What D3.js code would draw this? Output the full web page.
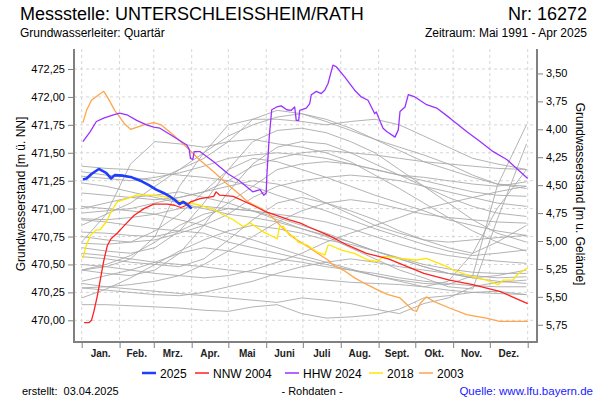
<!DOCTYPE html>
<html><head><meta charset="utf-8">
<script src="https://cdn.jsdelivr.net/npm/d3@7"></script>
<style>body{margin:0;background:#fff}svg{display:block;font-family:"Liberation Sans",Arial,sans-serif}</style>
</head><body><svg id="c" width="600" height="400"></svg>
<script>
// ---- data ----
const monthStarts = [0,31,59,90,120,151,181,212,243,273,304,334,365];
const monthLabels = ["Jan.","Feb.","Mrz.","Apr.","Mai","Juni","Juli","Aug.","Sept.","Okt.","Nov.","Dez."];
const leftTicks = [470.00,470.25,470.50,470.75,471.00,471.25,471.50,471.75,472.00,472.25];
const rightTicks = [3.50,3.75,4.00,4.25,4.50,4.75,5.00,5.25,5.50,5.75];
const groundLevel = 475.71;

const greyDays = [0,20,40,60,80,100,120,140,160,180,200,220,240,260,280,300,320,340,364];
const greyYears = [
 [471.33,471.30,471.28,471.25,471.35,471.45,471.60,471.80,471.88,471.85,471.78,471.70,471.62,471.55,471.48,471.40,471.30,471.22,471.20],
 [470.70,470.95,471.40,471.60,471.58,471.55,471.60,471.62,471.58,471.55,471.50,471.42,471.30,471.18,471.05,470.92,470.80,470.70,470.62],
 [470.45,470.48,470.55,470.75,471.20,471.50,471.75,471.80,471.80,471.78,471.75,471.78,471.80,471.75,471.65,471.55,471.45,471.40,471.35],
 [470.90,470.88,470.85,470.82,470.80,470.78,470.70,470.65,470.60,470.55,470.50,470.45,470.40,470.36,470.33,470.32,470.40,471.20,471.75],
 [471.00,471.05,471.10,471.12,471.15,471.10,471.05,470.98,470.90,470.82,470.75,470.65,470.55,470.45,470.38,470.30,470.28,470.90,471.58],
 [470.33,470.30,470.28,470.26,470.24,470.22,470.20,470.18,470.16,470.20,470.18,470.15,470.10,470.06,470.15,470.20,470.30,470.34,470.36],
 [470.14,470.14,470.13,470.12,470.11,470.09,470.08,470.12,470.14,470.06,470.02,470.03,470.05,470.10,470.20,470.22,470.25,470.26,470.23],
 [470.45,470.50,470.58,470.70,470.85,470.95,471.00,470.98,470.92,470.85,470.78,470.70,470.62,470.55,470.48,470.42,470.38,470.40,470.45],
 [470.57,470.55,470.52,470.50,470.48,470.55,470.72,470.90,471.05,471.10,471.05,470.98,470.90,470.80,470.72,470.65,470.60,470.70,470.85],
 [471.23,471.20,471.15,471.10,471.05,471.00,470.95,470.92,470.88,470.82,470.76,470.70,470.62,470.55,470.48,470.42,470.38,470.35,470.33],
 [471.29,471.27,471.25,471.28,471.32,471.38,471.45,471.48,471.50,471.48,471.45,471.40,471.35,471.30,471.25,471.20,471.15,471.12,471.11],
 [471.14,471.12,471.10,471.08,471.10,471.15,471.20,471.25,471.22,471.15,471.05,470.95,470.85,470.78,470.72,470.70,470.72,470.74,470.76],
 [470.96,470.98,471.00,471.05,471.10,471.15,471.25,471.38,471.45,471.50,471.52,471.50,471.48,471.45,471.42,471.40,471.38,471.36,471.35],
 [470.91,470.90,470.92,470.95,471.00,471.02,471.00,470.98,470.95,470.92,470.88,470.82,470.75,470.68,470.62,470.58,470.55,470.53,470.51],
 [470.79,470.78,470.76,470.75,470.80,470.90,471.05,471.20,471.35,471.40,471.42,471.40,471.35,471.30,471.28,471.25,471.22,471.20,471.24],
 [470.69,470.68,470.70,470.72,470.78,470.85,470.95,471.10,471.20,471.25,471.28,471.30,471.28,471.25,471.20,471.15,471.10,471.05,471.02],
 [470.45,470.42,470.40,470.45,470.60,470.85,471.15,471.40,471.55,471.60,471.58,471.50,471.40,471.30,471.20,471.10,471.02,470.96,470.93],
 [470.29,470.30,470.32,470.35,470.40,470.50,470.62,470.75,470.88,470.98,471.05,471.08,471.05,471.00,470.95,470.92,470.90,470.88,470.87],
 [470.29,470.27,470.25,470.23,470.22,470.25,470.30,470.35,470.42,470.48,470.52,470.55,470.52,470.48,470.45,470.42,470.40,470.38,470.39],
 [470.65,470.62,470.60,470.65,470.80,471.05,471.35,471.60,471.70,471.72,471.68,471.60,471.50,471.35,471.20,471.05,470.90,470.78,470.70],
 [471.38,471.36,471.35,471.32,471.30,471.28,471.25,471.20,471.12,471.05,470.98,470.90,470.82,470.75,470.68,470.62,470.58,470.60,470.63],
 [470.50,470.48,470.45,470.42,470.40,470.38,470.40,470.45,470.52,470.60,470.70,470.78,470.85,470.92,471.00,471.05,471.10,471.15,471.20],
 [470.85,470.95,471.05,471.20,471.35,471.50,471.65,471.75,471.82,471.85,471.80,471.72,471.62,471.52,471.42,471.35,471.28,471.22,471.18],
 [470.60,470.58,470.55,470.52,470.50,470.48,470.45,470.43,470.40,470.38,470.36,470.34,470.33,470.32,470.30,470.35,470.60,471.00,471.35],
 [470.35,470.40,470.45,470.52,470.60,470.65,470.62,470.58,470.55,470.52,470.48,470.45,470.42,470.38,470.35,470.33,470.31,470.30,470.30],
 [471.02,471.00,470.98,470.95,470.90,470.85,470.78,470.72,470.65,470.58,470.52,470.46,470.40,470.35,470.30,470.27,470.25,470.24,470.23],
 [470.75,470.72,470.70,470.80,470.95,471.15,471.35,471.45,471.42,471.35,471.28,471.20,471.12,471.05,470.98,470.90,470.85,470.80,470.76],
 [470.20,470.28,470.38,470.50,470.62,470.72,470.80,470.85,470.82,470.78,470.72,470.68,470.62,470.56,470.50,470.46,470.43,470.42,470.42]
];

const days2003 = [1,4,8,14,18,21,27,35,40,51,59,65,75,86,97,108,119,130,136,147,152.5,160.6,166,174,185,193,201.5,205.6,208.3,214,223.4,231.6,242.5,250.7,260.5,271,274,277,282,288,301,315,331,342,365];
const vals2003 = [471.77,471.88,471.97,472.02,472.05,472.00,471.88,471.76,471.71,471.75,471.77,471.75,471.66,471.55,471.43,471.33,471.22,471.12,471.06,471.00,470.96,470.87,470.81,470.735,470.66,470.60,470.54,470.495,470.48,470.45,470.38,470.33,470.27,470.23,470.20,470.09,470.08,470.15,470.21,470.17,470.11,470.05,470.02,469.99,469.99];

const days2018 = [1,3.5,7,12,15,20,25,29,37,45,56,67,80,97,108,124,132,138,149,160,162,165,170,174,177,185,193,199,201.5,204,212,223,234,242.5,246.5,251,260,274,282,299,304,320,331,341,345,353,356.5,365];
const vals2018 = [470.555,470.66,470.76,470.81,470.81,470.88,470.99,471.06,471.09,471.12,471.12,471.11,471.07,471.03,470.99,470.90,470.84,470.87,470.79,470.73,470.84,470.84,470.76,470.75,470.70,470.67,470.61,470.585,470.67,470.67,470.63,470.60,470.54,470.525,470.57,470.57,470.555,470.54,470.555,470.48,470.45,470.39,470.36,470.32,470.36,470.36,470.41,470.47];

const daysHHW2024 = [1,7,12,18,26,31,37,45,53,59,64,75,86,88,89,91,92,97,108,120,129,140,146,149,151,151.5,153.5,155.5,159.6,163.3,167.8,171.5,174.3,175.6,177.6,178.4,183.8,186.6,187.9,192,196,198.9,201.6,205.6,208.3,215.2,223.4,228.8,234.3,238.4,239.8,241.1,243.9,246.6,249.6,256.4,259.1,260.5,264.6,267.3,272.7,282.3,290.5,301.4,315,326,336.8,347.8,365];
const valsHHW2024 = [471.60,471.69,471.78,471.81,471.84,471.855,471.84,471.79,471.75,471.73,471.72,471.645,471.57,471.53,471.45,471.44,471.51,471.51,471.42,471.31,471.25,471.15,471.17,471.12,471.14,471.29,471.645,471.885,471.91,471.92,471.885,471.88,471.91,471.79,471.79,471.88,471.90,471.94,472.02,472.05,472.03,472.06,472.12,472.285,472.27,472.18,472.06,472.00,471.97,471.88,471.85,471.865,471.79,471.72,471.69,471.64,471.705,471.87,471.91,472.02,472.00,471.93,471.90,471.81,471.69,471.60,471.51,471.44,471.27];

const daysNNW2004 = [2,6,8,10,13,15.5,18,21,24,29,35,43,51,59,70,76,81,86,89,97,108,110,113,124,140,151,170,179,185,202,218,233,251,260,280,301,320,342,365];
const valsNNW2004 = [469.98,469.98,470.00,470.08,470.23,470.38,470.53,470.67,470.73,470.78,470.85,470.94,471.00,471.04,471.04,471.03,471.01,471.03,471.06,471.09,471.11,471.15,471.12,471.11,471.03,470.97,470.90,470.87,470.84,470.76,470.67,470.60,470.55,470.51,470.42,470.36,470.32,470.26,470.15];

const days2025 = [1,4,8,14,20,24,27,34,41,48,55,61,67,72,77,80,83,86,90];
const vals2025 = [471.26,471.27,471.31,471.355,471.32,471.27,471.30,471.295,471.28,471.25,471.21,471.17,471.14,471.11,471.07,471.04,471.06,471.04,471.00];

const seriesNames = ["2025","NNW 2004","HHW 2024","2018","2003"];
const seriesColors = ["#1f3cff","#ff2020","#9a32ff","#ffe600","#ffa54a"];

// ---- chart ----
const svg = d3.select("#c");
const L = 74, R = 537, T = 49, B = 342;
const x = d3.scaleLinear().domain([0,365]).range([81.7,527.7]);
const y = d3.scaleLinear().domain([470,472.25]).range([320.3,69]);
const y2 = d3.scaleLinear().domain([groundLevel-470, groundLevel-472.25]).range([320.3,69]);

svg.append("defs").append("clipPath").attr("id","clip")
  .append("rect").attr("x",L).attr("y",T).attr("width",R-L).attr("height",B-T);

// grid
const grid = svg.append("g");
grid.selectAll("line.h").data(leftTicks).join("line")
  .attr("x1",L).attr("x2",R).attr("y1",d=>y(d)).attr("y2",d=>y(d))
  .attr("stroke","#d6d6d6").attr("stroke-dasharray","3,3");
grid.selectAll("line.v").data(monthStarts).join("line")
  .attr("x1",d=>x(d)).attr("x2",d=>x(d)).attr("y1",T).attr("y2",B)
  .attr("stroke","#d6d6d6").attr("stroke-dasharray","3,3");

const line = d3.line().x(d=>x(d[0])).y(d=>y(d[1]));
const plot = svg.append("g").attr("clip-path","url(#clip)");
greyYears.forEach(vals=>{
  plot.append("path").datum(greyDays.map((d,i)=>[d,vals[i]])).attr("d",line)
    .attr("fill","none").attr("stroke","#aaaaaa").attr("stroke-width",0.9);
});
const hl = [
  [days2003,vals2003,4,1.3],
  [days2018,vals2018,3,1.3],
  [daysHHW2024,valsHHW2024,2,1.3],
  [daysNNW2004,valsNNW2004,1,1.3],
  [days2025,vals2025,0,2.6]
];
hl.forEach(([ds,vs,ci,w])=>{
  plot.append("path").datum(ds.map((d,i)=>[d,vs[i]])).attr("d",line)
    .attr("fill","none").attr("stroke",seriesColors[ci]).attr("stroke-width",w)
    .attr("stroke-linejoin","round");
});

// axes frame
const axCol = "#808080";
svg.append("line").attr("x1",L).attr("x2",L).attr("y1",T).attr("y2",B).attr("stroke",axCol).attr("stroke-width",2);
svg.append("line").attr("x1",R).attr("x2",R).attr("y1",T).attr("y2",B).attr("stroke",axCol).attr("stroke-width",2);
svg.append("line").attr("x1",L-1).attr("x2",R+1).attr("y1",B).attr("y2",B).attr("stroke",axCol).attr("stroke-width",2);

const leftAxis = d3.axisLeft(y).tickValues(leftTicks).tickSize(5).tickFormat(d=>d3.format(".2f")(d).replace(".",","));
const gl = svg.append("g").attr("transform",`translate(${L-1},0)`).call(leftAxis);
gl.select(".domain").remove();
gl.selectAll("line").attr("stroke",axCol);
gl.selectAll("text").attr("font-size",11).attr("fill","#000").attr("font-family","Liberation Sans, Arial, sans-serif");

const rightAxis = d3.axisRight(y2).tickValues(rightTicks).tickSize(5).tickFormat(d=>d3.format(".2f")(d).replace(".",","));
const gr = svg.append("g").attr("transform",`translate(${R+1},0)`).call(rightAxis);
gr.select(".domain").remove();
gr.selectAll("line").attr("stroke",axCol);
gr.selectAll("text").attr("font-size",11).attr("fill","#000").attr("font-family","Liberation Sans, Arial, sans-serif");

const bottomAxis = d3.axisBottom(x).tickValues(monthStarts).tickSize(5).tickFormat("");
const gb = svg.append("g").attr("transform",`translate(0,${B+1})`).call(bottomAxis);
gb.select(".domain").remove();
gb.selectAll("line").attr("stroke",axCol);

svg.append("g").selectAll("text").data(monthLabels).join("text")
  .attr("x",(d,i)=>x((monthStarts[i]+monthStarts[i+1])/2)).attr("y",357)
  .attr("text-anchor","middle").attr("font-size",10).attr("font-weight","bold").attr("fill","#222")
  .text(d=>d);

// titles
svg.append("text").attr("x",20).attr("y",20).attr("font-size",18).text("Messstelle: UNTERSCHLEISSHEIM/RATH");
svg.append("text").attr("x",587).attr("y",20).attr("font-size",18).attr("text-anchor","end").text("Nr: 16272");
svg.append("text").attr("x",20).attr("y",37).attr("font-size",12).text("Grundwasserleiter: Quartär");
svg.append("text").attr("x",587).attr("y",37).attr("font-size",12).attr("text-anchor","end").text("Zeitraum: Mai 1991 - Apr 2025");

svg.append("text").attr("transform","translate(25,194) rotate(-90)").attr("text-anchor","middle").attr("font-size",12)
  .text("Grundwasserstand [m ü. NN]");
svg.append("text").attr("transform","translate(576,194) rotate(90)").attr("text-anchor","middle").attr("font-size",12)
  .text("Grundwasserstand [m u. Gelände]");

// legend
const legX = [142,195,285,369,419];
const lg = svg.append("g");
seriesNames.forEach((n,i)=>{
  lg.append("line").attr("x1",legX[i]).attr("x2",legX[i]+14).attr("y1",373).attr("y2",373)
    .attr("stroke",seriesColors[i]).attr("stroke-width",i===0?2.5:1.5);
  lg.append("text").attr("x",legX[i]+18).attr("y",377.5).attr("font-size",12).text(n);
});

// footer
svg.append("text").attr("x",22).attr("y",395).attr("font-size",11).attr("xml:space","preserve").text("erstellt:  03.04.2025");
svg.append("text").attr("x",312).attr("y",395).attr("font-size",11).attr("text-anchor","middle").text("- Rohdaten -");
svg.append("text").attr("x",593).attr("y",395).attr("font-size",11.5).attr("text-anchor","end").attr("fill","#1a1aff").text("Quelle: www.lfu.bayern.de");
</script></body></html>
